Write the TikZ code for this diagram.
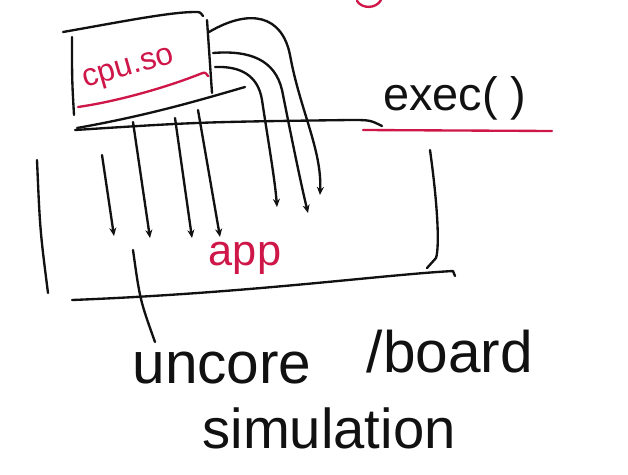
\documentclass[tikz,border=0pt]{standalone}
\usepackage{fontspec}
\setsansfont{Liberation Sans}
\usetikzlibrary{arrows.meta,calc}
\definecolor{ink}{RGB}{17,17,17}
\definecolor{inkred}{RGB}{206,22,72}
\tikzset{
  pen/.style={
    draw=ink,
    line width=2pt,
    line cap=round,
    line join=round
  },
  redpen/.style={pen,draw=inkred},
  feed/.style={
    pen,
    -{Stealth[length=7pt,width=6pt]}
  },
  scrawl/.style={
    font=\sffamily,
    text=ink,
    inner sep=0pt
  },
  redscrawl/.style={scrawl,text=inkred}
}

\begin{document}
\begin{tikzpicture}[x=0.03cm,y=-0.03cm]
  \useasboundingbox (0,0) rectangle (628,474);

  % cut-off title letter
  \draw[redpen] (357,1) .. controls (362,9) and (376,9) .. (381,0);

  % the cpu.so box
  \draw[pen] (63,32) .. controls (120,22) and (170,12) .. (195,12) .. controls (200,12) .. (203,16);
  \draw[pen] (72,37) .. controls (72,80) .. (74,115);
  \draw[pen] (207,20) -- (212,93);
  \draw[pen] (77,128) .. controls (150,115) and (200,100) .. (245,87);
  \node[redscrawl,font=\sffamily\fontsize{27}{30}\selectfont,rotate=16] (cpuso) at (129,70) {cpu.so};
  \draw[redpen] (78,107) .. controls (120,101) and (170,86) .. (200,74) .. controls (205,72) .. (208,76);

  % exec line
  \draw[pen] (75,130) .. controls (200,122) .. (350,120) .. controls (370,120) .. (382,126);
  \draw[redpen] (363,130) -- (552,131);
  \node[scrawl,font=\sffamily\fontsize{40}{44}\selectfont] (exec) at (455,98) {exec( )};

  % the app box
  \draw[pen] (37,160) .. controls (40,230) .. (48,293);
  \draw[pen] (72,300) .. controls (250,293) and (380,275) .. (453,271) -- (455,276);
  \draw[pen] (430,150) .. controls (437,200) and (440,245) .. (436,258) -- (427,268);
  \node[redscrawl,font=\sffamily\fontsize{37}{40}\selectfont] (app) at (245,258) {app};

  % calls down into the app
  \coordinate (s1) at (102,155);
  \coordinate (s2) at (133,122);
  \coordinate (s3) at (175,118);
  \coordinate (s4) at (198,110);
  \coordinate (t1) at (114,236);
  \coordinate (t2) at (150,238);
  \coordinate (t3) at (192,238);
  \coordinate (t4) at (220,237);
  \foreach \i in {1,...,4}
    \draw[feed] (s\i) -- (t\i);

  % calls out of cpu.so
  \coordinate (ra) at (209,32);
  \coordinate (rb) at (213,53);
  \coordinate (rc) at (215,67);
  \coordinate (ha) at (320,195);
  \coordinate (hb) at (308,213);
  \coordinate (hc) at (277,207);
  \draw[feed] (ra) .. controls (250,8) and (282,15) .. (290,55) .. controls (300,110) and (322,150) .. (ha);
  \draw[feed] (rb) .. controls (250,50) and (275,60) .. (282,90) .. controls (290,130) and (300,180) .. (hb);
  \draw[feed] (rc) .. controls (240,66) and (258,75) .. (262,100) .. controls (268,140) and (275,180) .. (hc);

  % labels below
  \node[scrawl,font=\sffamily\fontsize{50}{54}\selectfont] (uncore) at (222,368) {uncore};
  \node[scrawl,font=\sffamily\fontsize{50}{54}\selectfont] (board) at (450,352) {/board};
  \node[scrawl,font=\sffamily\fontsize{48}{52}\selectfont] (simul) at (329,428) {simulation};
  \coordinate (lead) at (133,250);
  \coordinate (leadend) at (155,342);
  \draw[pen] (lead) .. controls (140,300) .. (leadend);
\end{tikzpicture}
\end{document}
